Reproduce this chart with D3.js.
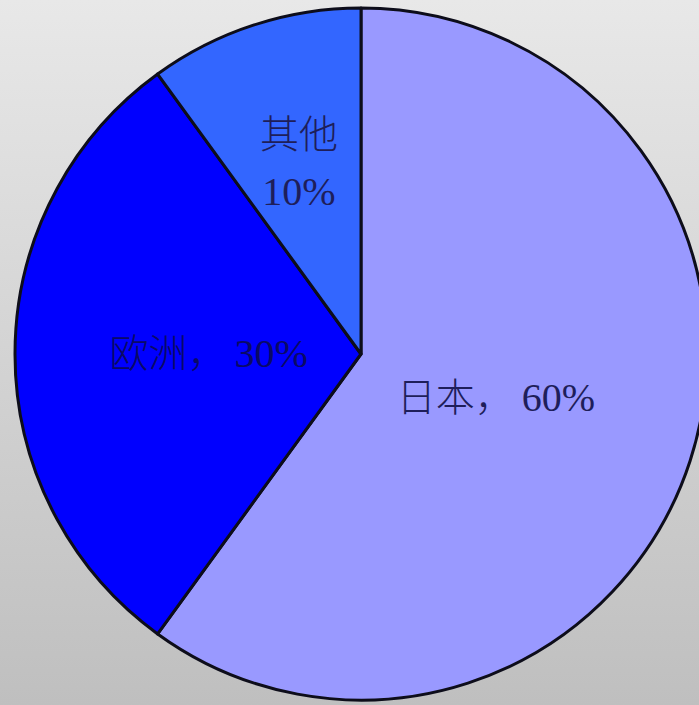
<!DOCTYPE html>
<html>
<head>
<meta charset="utf-8">
<script src="https://cdn.jsdelivr.net/npm/d3@7"></script>
<style>
html,body{margin:0;padding:0;overflow:hidden;background:#d6d6d6;}
svg{display:block;}
</style>
</head>
<body>
<script>
const categories = ["日本", "欧洲", "其他"];
const values = [60, 30, 10];
const percentLabels = ["60%", "30%", "10%"];
const colors = ["#9999ff", "#0000ff", "#3366ff"];

const W = 699, H = 705;
const cx = 361, cy = 354, R = 346;

const svg = d3.select("body").append("svg").attr("width", W).attr("height", H);
const defs = svg.append("defs");
const grad = defs.append("linearGradient").attr("id", "bg").attr("x1", 0).attr("y1", 0).attr("x2", 0).attr("y2", 1);
grad.append("stop").attr("offset", "0%").attr("stop-color", "#e8e8e8");
grad.append("stop").attr("offset", "100%").attr("stop-color", "#bfbfbf");
svg.append("rect").attr("width", W).attr("height", H).attr("fill", "url(#bg)");

const data = categories.map((c, i) => ({name: c, value: values[i], pct: percentLabels[i], color: colors[i]}));
const pie = d3.pie().value(d => d.value).sort(null);
const arcs = pie(data);
const arc = d3.arc().innerRadius(0).outerRadius(R);

const g = svg.append("g").attr("transform", `translate(${cx},${cy})`);
g.selectAll("path").data(arcs).enter().append("path")
  .attr("d", arc)
  .attr("fill", d => d.data.color)
  .attr("stroke", "#0d0d1a")
  .attr("stroke-width", 3)
  .attr("stroke-linejoin", "round");

// label radii as fractions of R
const labelFrac = [0.41, 0.44, 0.58];
const fsC = 39, fsD = 40;
arcs.forEach((a, i) => {
  const la = d3.arc().innerRadius(R * labelFrac[i]).outerRadius(R * labelFrac[i]);
  const [x, y] = la.centroid(a);
  const t = g.append("text")
    .attr("text-anchor", "middle")
    .attr("fill", i === 1 ? "#0a0a66" : "#1e1e5a");
  if (i === 2) {
    t.append("tspan").attr("x", x).attr("y", y - 15)
      .attr("font-family", "'Noto Sans CJK SC'").attr("font-weight", 300).attr("font-size", fsC)
      .text(a.data.name);
    t.append("tspan").attr("x", x).attr("y", y + 42)
      .attr("font-family", "'Liberation Serif'").attr("font-size", fsD)
      .text(a.data.pct);
  } else {
    t.attr("x", x).attr("y", y + 13);
    t.append("tspan").attr("font-family", "'Noto Sans CJK SC'").attr("font-weight", 300).attr("font-size", fsC)
      .text(a.data.name + "，");
    t.append("tspan").attr("font-family", "'Liberation Serif'").attr("font-size", fsD).attr("dx", 8)
      .text(a.data.pct);
  }
});
</script>
</body>
</html>
